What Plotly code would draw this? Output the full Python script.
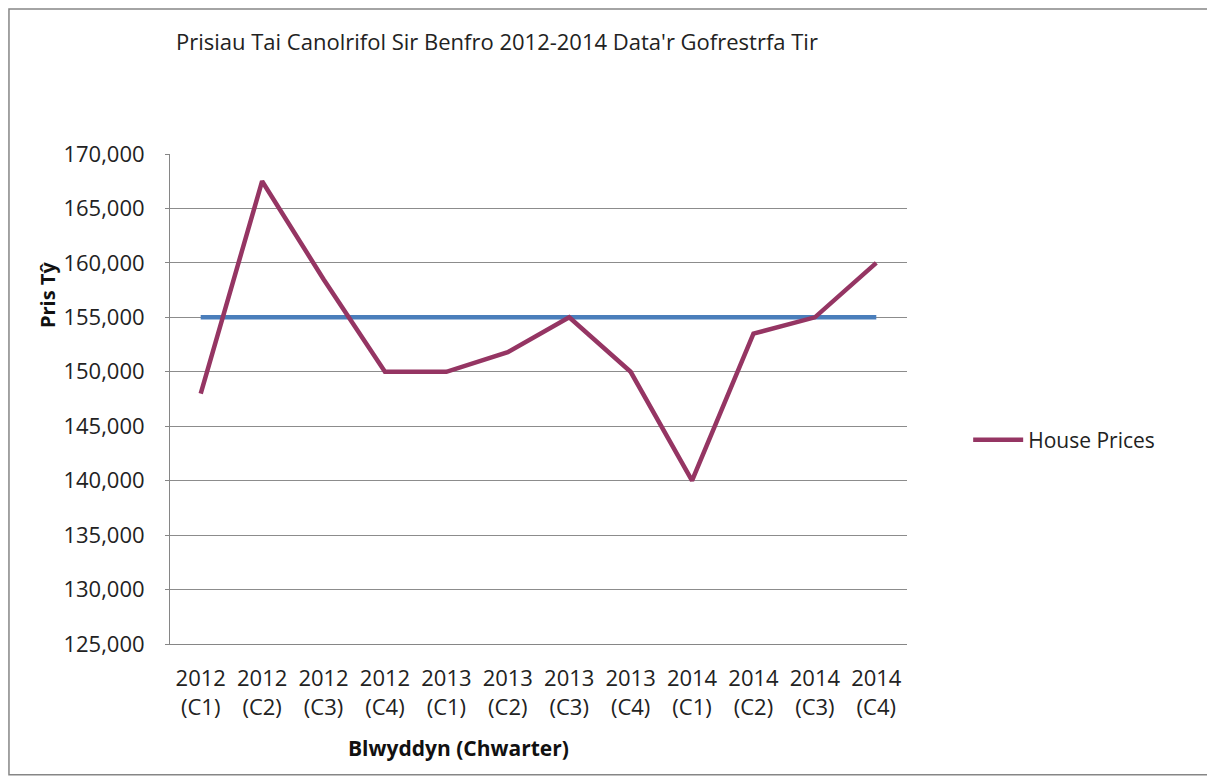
import plotly.graph_objects as go

categories = ["2012<br>(C1)", "2012<br>(C2)", "2012<br>(C3)", "2012<br>(C4)",
              "2013<br>(C1)", "2013<br>(C2)", "2013<br>(C3)", "2013<br>(C4)",
              "2014<br>(C1)", "2014<br>(C2)", "2014<br>(C3)", "2014<br>(C4)"]
house_prices = [148000, 167500, 158500, 150000, 150000, 151800,
                155000, 150000, 140000, 153500, 155000, 160000]
median_line = [155000, 155000, 155000, 155000, 155000, 155000,
               155000, 155000, 155000, 155000, 155000, 155000]
y_ticks = [125000, 130000, 135000, 140000, 145000, 150000,
           155000, 160000, 165000, 170000]

FONT = "Open Sans"
fig = go.Figure()
fig.add_trace(go.Scatter(x=categories, y=median_line, mode="lines",
                         line=dict(color="#4A7EBB", width=4.5),
                         showlegend=False, hoverinfo="skip"))
fig.add_trace(go.Scatter(x=categories, y=house_prices, mode="lines",
                         name="House Prices",
                         line=dict(color="#953563", width=4.5)))

fig.update_layout(
    width=1215, height=778,
    margin=dict(l=162, r=316, t=146, b=142),
    paper_bgcolor="white", plot_bgcolor="white",
    font=dict(family=FONT, color="#222222"),
    showlegend=True,
    legend=dict(x=1.083, y=0.416, xanchor="left", yanchor="middle",
                font=dict(family=FONT, size=21, color="#222222"),
                bgcolor="rgba(0,0,0,0)", itemwidth=50),
    xaxis=dict(type="category", showgrid=False, showline=True,
               linecolor="#868686", linewidth=1, ticks="",
               tickfont=dict(family=FONT, size=22, color="#222222"),
               ticklabelstandoff=15,
               range=[-0.5, 11.5], fixedrange=True),
    yaxis=dict(range=[125000, 170000], tickvals=y_ticks,
               tickformat=",d", showgrid=True, gridcolor="#8C8C8C",
               gridwidth=1, showline=True, linecolor="#868686",
               linewidth=1, ticks="outside", ticklen=4, tickcolor="#868686",
               tickfont=dict(family=FONT, size=22, color="#222222"),
               ticklabelstandoff=16,
               zeroline=False),
    shapes=[dict(type="rect", xref="paper", yref="paper",
                 x0=-0.2185, x1=1.4084, y0=-0.267, y1=1.296,
                 line=dict(color="#868686", width=1.5))],
    annotations=[
        dict(text="Prisiau Tai Canolrifol Sir Benfro 2012-2014 Data'r Gofrestrfa Tir",
             xref="paper", yref="paper", x=0.005, y=1.231, xanchor="left",
             yanchor="middle", showarrow=False,
             font=dict(family=FONT, size=22, color="#222222")),
        dict(text="<b>Pris Tŷ</b>", xref="paper", yref="paper",
             x=-0.167, y=0.712, xanchor="center", yanchor="middle",
             textangle=-90, showarrow=False,
             font=dict(family=FONT, size=20, color="#111111")),
        dict(text="<b>Blwyddyn (Chwarter)</b>", xref="paper", yref="paper",
             x=0.391, y=-0.212, xanchor="center", yanchor="middle",
             showarrow=False,
             font=dict(family=FONT, size=21, color="#111111")),
    ],
)
fig.write_html("out.html")
